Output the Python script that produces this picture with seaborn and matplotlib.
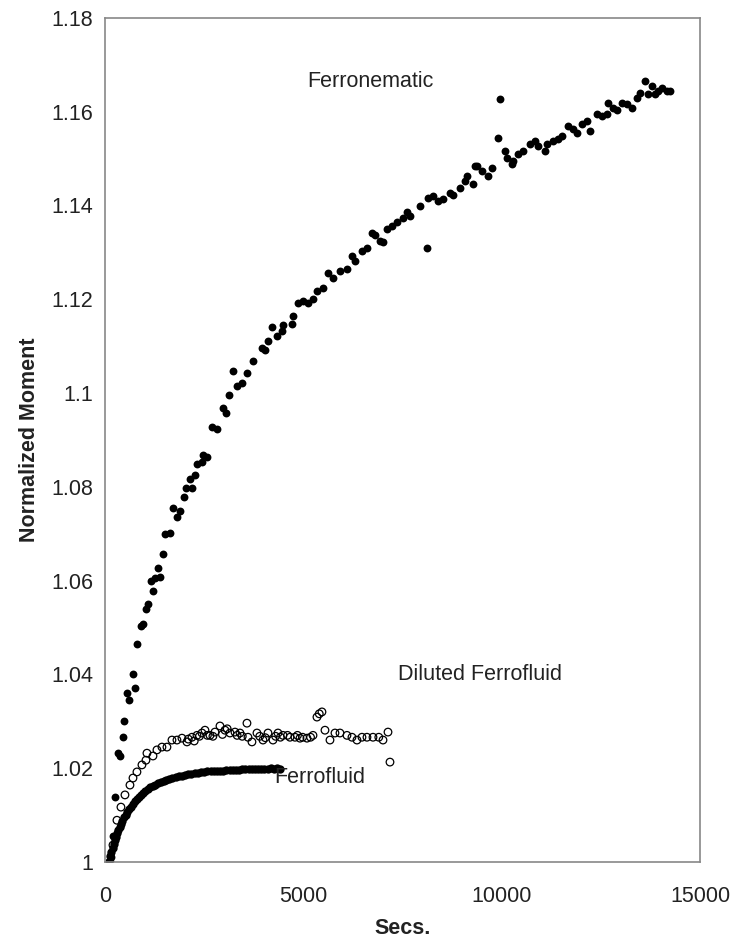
import numpy as np
import pandas as pd
import matplotlib
matplotlib.use("Agg")
import matplotlib.pyplot as plt
from matplotlib.ticker import FuncFormatter
import seaborn as sns

# Ferronematic (filled circles)
fn_secs = [150, 200, 250, 330, 380, 454, 480, 554, 605, 706, 756, 806, 907, 958, 1033, 1084,
           1159, 1210, 1260, 1336, 1386, 1462, 1512, 1638, 1714, 1814, 1890, 1991, 2041, 2142,
           2192, 2268, 2318, 2444, 2470, 2570, 2696, 2822, 2974, 3049, 3125, 3226, 3326, 3452,
           3578, 3730, 3956, 4032, 4100, 4208, 4334, 4460, 4486, 4712, 4738, 4864, 4990, 5116,
           5242, 5342, 5494, 5620, 5746, 5922, 6098, 6224, 6300, 6476, 6602, 6728, 6804, 6930,
           7006, 7106, 7232, 7358, 7510, 7610, 7686, 7938, 8114, 8140, 8266, 8392, 8518, 8694,
           8770, 8946, 9072, 9122, 9274, 9324, 9374, 9500, 9652, 9752, 9904, 9954, 10080, 10130,
           10256, 10282, 10408, 10534, 10710, 10836, 10912, 11088, 11138, 11290, 11416, 11516,
           11668, 11794, 11894, 12020, 12146, 12222, 12398, 12524, 12650, 12676, 12802, 12902,
           13028, 13154, 13280, 13406, 13482, 13608, 13684, 13784, 13860, 13936, 14036, 14162,
           14238]
fn_moment = [1.001, 1.0055, 1.0139, 1.0232, 1.0226, 1.0266, 1.030, 1.036, 1.0345, 1.040, 1.037,
             1.0465, 1.0503, 1.0507, 1.054, 1.055, 1.060, 1.0577, 1.0605, 1.0626, 1.0607, 1.0656,
             1.0699, 1.0701, 1.0754, 1.0735, 1.0748, 1.0778, 1.0797, 1.0816, 1.0797, 1.0826,
             1.0848, 1.0852, 1.0867, 1.0863, 1.0927, 1.0924, 1.0967, 1.0958, 1.0995, 1.1048,
             1.1016, 1.1022, 1.1042, 1.1069, 1.1097, 1.1091, 1.1112, 1.1140, 1.1122, 1.1133,
             1.1144, 1.1148, 1.1165, 1.1191, 1.1197, 1.1193, 1.1201, 1.1218, 1.1225, 1.1257,
             1.1246, 1.1261, 1.1265, 1.1293, 1.1282, 1.1303, 1.1310, 1.1342, 1.1336, 1.1325,
             1.1321, 1.1350, 1.1357, 1.1364, 1.1374, 1.1385, 1.1378, 1.1399, 1.1310, 1.1416,
             1.1421, 1.1410, 1.1414, 1.1427, 1.1423, 1.1438, 1.1453, 1.1463, 1.1446, 1.1485,
             1.1485, 1.1474, 1.1463, 1.1480, 1.1544, 1.1627, 1.1517, 1.1502, 1.1489, 1.1495,
             1.1510, 1.1517, 1.1531, 1.1538, 1.1527, 1.1517, 1.1531, 1.1538, 1.1542, 1.1548,
             1.1570, 1.1563, 1.1555, 1.1574, 1.1580, 1.1559, 1.1595, 1.1591, 1.1595, 1.1619,
             1.1608, 1.1604, 1.1619, 1.1617, 1.1608, 1.1630, 1.1640, 1.1666, 1.1638, 1.1655,
             1.1638, 1.1644, 1.1650, 1.1644, 1.1644]

# Diluted Ferrofluid (open circles)
dil_secs = [126, 202, 302, 403, 504, 630, 706, 806, 932, 1033, 1058, 1210, 1310, 1436, 1562,
            1688, 1814, 1940, 2066, 2100, 2192, 2250, 2318, 2380, 2444, 2520, 2580, 2646, 2720,
            2772, 2898, 2960, 3024, 3080, 3150, 3276, 3330, 3402, 3460, 3578, 3604, 3704, 3830,
            3900, 3982, 4040, 4108, 4234, 4300, 4360, 4420, 4486, 4600, 4662, 4788, 4850, 4914,
            4980, 5090, 5180, 5242, 5342, 5400, 5468, 5544, 5670, 5796, 5922, 6098, 6224, 6350,
            6476, 6602, 6754, 6900, 7006, 7132, 7182]
dil_moment = [1.000, 1.0036, 1.0089, 1.0117, 1.0143, 1.0164, 1.0179, 1.0192, 1.0207, 1.0217,
              1.0232, 1.0226, 1.0239, 1.0245, 1.0245, 1.026, 1.026, 1.0264, 1.0256, 1.0262,
              1.0266, 1.0258, 1.027, 1.0268, 1.0275, 1.0281, 1.027, 1.027, 1.0268, 1.0277,
              1.029, 1.0272, 1.0281, 1.0284, 1.0275, 1.0277, 1.027, 1.0275, 1.0268, 1.0296,
              1.0266, 1.0256, 1.0275, 1.0268, 1.026, 1.0265, 1.0275, 1.026, 1.0268, 1.0275,
              1.0266, 1.027, 1.027, 1.0266, 1.0266, 1.027, 1.0264, 1.0266, 1.0264, 1.0266,
              1.027, 1.0309, 1.0316, 1.032, 1.0281, 1.026, 1.0275, 1.0275, 1.027, 1.0266,
              1.026, 1.0266, 1.0266, 1.0266, 1.0266, 1.026, 1.0277, 1.0213]

# Ferrofluid (filled circles, dense)
ff_secs = [100, 130, 160, 190, 220, 250, 280, 310, 340, 370, 400, 440, 480, 520, 560, 600,
           650, 700, 750, 800, 850, 900, 960, 1020, 1080, 1140, 1200, 1270, 1340, 1410, 1480,
           1550, 1620, 1700, 1780, 1860, 1940, 2020, 2100, 2180, 2260, 2340, 2420, 2500, 2580,
           2660, 2740, 2820, 2900, 2980, 3060, 3140, 3220, 3300, 3380, 3460, 3540, 3620, 3700,
           3780, 3860, 3940, 4020, 4100, 4180, 4260, 4340, 4420]
ff_moment = [1.000, 1.0012, 1.0022, 1.003, 1.0038, 1.0046, 1.0053, 1.0062, 1.0068, 1.0075,
             1.0081, 1.0088, 1.0095, 1.0101, 1.0107, 1.0112, 1.0118, 1.0124, 1.0129, 1.0134,
             1.0138, 1.0142, 1.0147, 1.0151, 1.0155, 1.0159, 1.0162, 1.0165, 1.0168, 1.0171,
             1.0173, 1.0175, 1.0177, 1.0179, 1.0181, 1.0183, 1.0184, 1.0186, 1.0187, 1.0188,
             1.0189, 1.019, 1.0191, 1.0192, 1.0193, 1.0193, 1.0194, 1.0194, 1.0195, 1.0195,
             1.0196, 1.0196, 1.0197, 1.0197, 1.0197, 1.0198, 1.0198, 1.0198, 1.0198, 1.0199,
             1.0199, 1.0199, 1.0199, 1.0199, 1.02, 1.0199, 1.02, 1.0198]

x_ticks = [0, 5000, 10000, 15000]
y_ticks = [1.0, 1.02, 1.04, 1.06, 1.08, 1.1, 1.12, 1.14, 1.16, 1.18]

sns.set_style("white")
plt.rcParams['font.family'] = ['Liberation Sans', 'DejaVu Sans']

fig = plt.figure(figsize=(7.34, 9.40), dpi=100)
ax = fig.add_axes([0.143, 0.083, 0.811, 0.898])

sns.scatterplot(x=fn_secs, y=fn_moment, ax=ax, color='black', s=32, linewidth=0, marker='o')
sns.scatterplot(x=ff_secs, y=ff_moment, ax=ax, color='black', s=36, linewidth=0, marker='o')
sns.scatterplot(x=dil_secs, y=dil_moment, ax=ax, facecolor='none', edgecolor='black',
                s=30, linewidth=0.9, marker='o')

ax.set_xlim(0, 15000)
ax.set_ylim(1.0, 1.18)
ax.set_xticks(x_ticks)
ax.set_yticks(y_ticks)
ax.yaxis.set_major_formatter(FuncFormatter(lambda v, p: '%g' % round(v, 2)))

for sp in ax.spines.values():
    sp.set_color('#888888')
    sp.set_linewidth(1.2)
ax.tick_params(direction='out', length=5, width=1, color='#888888',
               labelsize=15.5, labelcolor='#222222')
ax.tick_params(axis='x', pad=12)

ax.set_xlabel('Secs.', fontsize=15.5, fontweight='bold', color='#222222', labelpad=8)
ax.set_ylabel('Normalized Moment', fontsize=15.5, fontweight='bold', color='#222222', labelpad=8)

ax.text(6700, 1.1665, 'Ferronematic', fontsize=15.5, color='#222222', ha='center', va='center')
ax.text(9450, 1.0399, 'Diluted Ferrofluid', fontsize=15.5, color='#222222', ha='center', va='center')
ax.text(4260, 1.0181, 'Ferrofluid', fontsize=15.5, color='#222222', ha='left', va='center')

fig.savefig('out.png', dpi=100)
